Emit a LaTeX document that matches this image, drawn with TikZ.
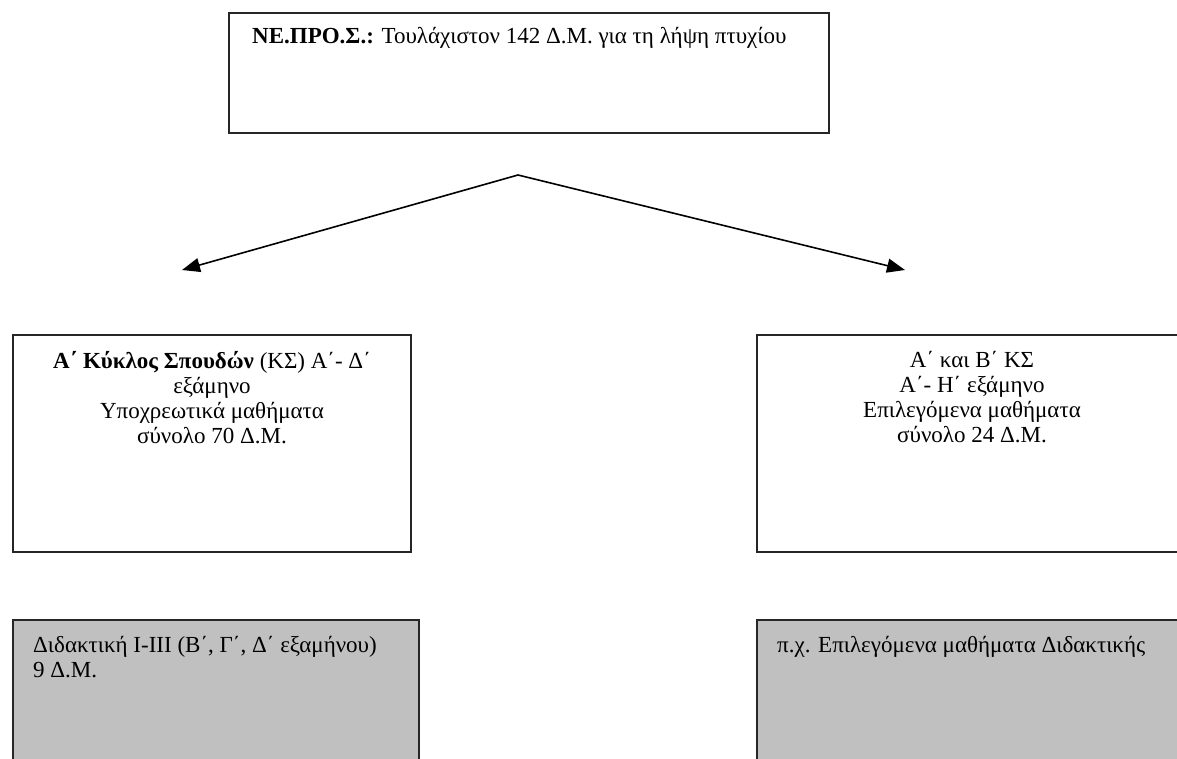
\documentclass[tikz,border=0pt]{standalone}
\usepackage{fontspec}
\setmainfont{Liberation Serif}
\usetikzlibrary{arrows.meta}
\definecolor{boxgrey}{HTML}{C0C0C0}
\begin{document}
\begin{tikzpicture}[x=1pt,y=1pt,
  frame/.style={draw=black!85, line width=1.6pt, inner sep=0pt},
  greyframe/.style={frame, fill=boxgrey},
  txt/.style={inner sep=0pt, font=\fontsize{23}{25}\selectfont},
  link/.style={line width=1.6pt, -{Triangle[length=18pt,width=14pt]}}]
\clip (0,0) rectangle (1177,-758);
% boxes
\node[frame, minimum width=600pt, minimum height=120pt] (nepros) at (529,-73) {};
\node[frame, minimum width=398pt, minimum height=217pt] (kyklosA) at (212,-443.5) {};
\node[frame, minimum width=432pt, minimum height=217pt] (kyklosAB) at (973,-443.5) {};
\node[greyframe, minimum width=406pt, minimum height=180pt] (didaktiki) at (216,-710) {};
\node[greyframe, minimum width=432pt, minimum height=180pt] (epilogi) at (973,-710) {};
% texts
\node[txt, anchor=base west] (neprostext) at (252,-43) {\textbf{ΝΕ.ΠΡΟ.Σ.:} Τουλάχιστον 142 Δ.Μ. για τη λήψη πτυχίου};
\node[txt, anchor=north, align=center] (kyklosAtext) at (212,-351) {\textbf{Α΄ Κύκλος Σπουδών} (ΚΣ) Α΄- Δ΄\\ εξάμηνο\\ Υποχρεωτικά μαθήματα\\ σύνολο 70 Δ.Μ.};
\node[txt, anchor=north, align=center] (kyklosABtext) at (972,-351) {Α΄ και Β΄ ΚΣ\\ Α΄- Η΄ εξάμηνο\\ Επιλεγόμενα μαθήματα\\ σύνολο 24 Δ.Μ.};
\node[txt, anchor=north west, align=left] (didaktikitext) at (33,-636) {Διδακτική I-III (Β΄, Γ΄, Δ΄ εξαμήνου)\\ 9 Δ.Μ.};
\node[txt, anchor=north west] (epilogitext) at (777,-636) {π.χ. Επιλεγόμενα μαθήματα Διδακτικής};
% arrows
\coordinate (apex) at (518,-175);
\coordinate (toA) at (182,-270);
\coordinate (toAB) at (905,-270);
\draw[link] (apex) -- (toA);
\draw[link] (apex) -- (toAB);
\end{tikzpicture}
\end{document}
